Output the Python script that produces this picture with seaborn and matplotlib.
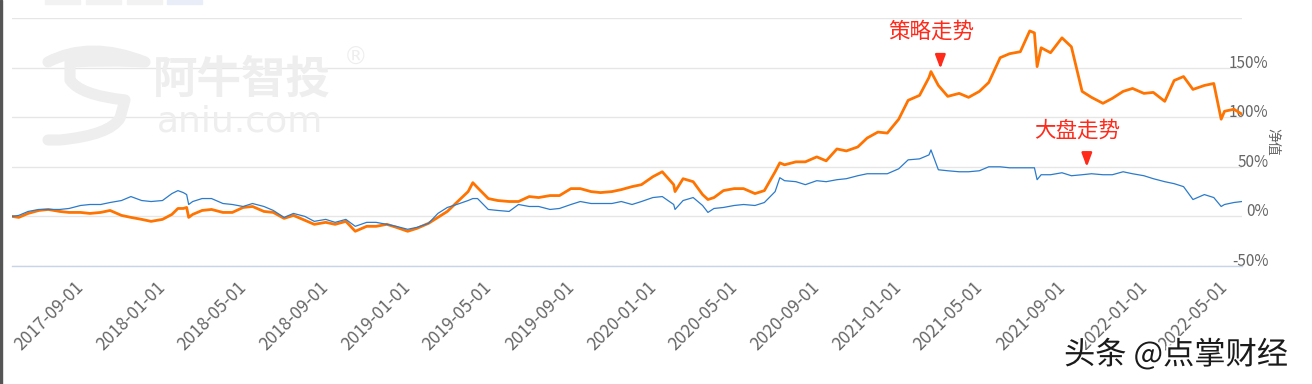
import pandas as pd
import matplotlib
matplotlib.use("Agg")
import matplotlib.pyplot as plt
import matplotlib.dates as mdates
import matplotlib.patheffects as pe
from matplotlib.patches import Rectangle, PathPatch
from matplotlib.path import Path
from matplotlib.transforms import ScaledTranslation
import seaborn as sns

# 半月采样点 (1日/15日) + 首尾
sample_dates = (["2017-05-22"]
                + list(pd.date_range("2017-06-01", "2022-05-15", freq="SMS").strftime("%Y-%m-%d"))
                + ["2022-05-27"])

# 策略走势 (%)
strategy = ([0]
            + [-1, 3, 6, 7, 5, 4, 4, 3, 4, 6, 1, -1, -3, -5]
            + [-3, 2, 8, 2, 6, 7, 4, 4, 9, 10, 5, 4, -2, 1, -4, -8, -6, -8, -5, -15, -10, -10, -8, -11]
            + [-15, -12, -7, -1, 5, 14, 25, 29, 18, 16, 15, 15, 20, 19, 21, 21, 28, 28, 25, 24, 25, 27, 30, 32]
            + [40, 45, 32, 38, 35, 22, 19, 26, 28, 28, 23, 26, 45, 52, 55, 55, 60, 56, 68, 66, 70, 79, 85, 84]
            + [98, 117, 122, 140, 132, 121, 124, 120, 126, 135, 160, 164, 166, 187, 170, 165, 180, 171, 126, 120, 114, 119, 126, 129]
            + [124, 125, 116, 137, 141, 128, 132, 134, 106, 108]
            + [103])

# 大盘走势 (%)
market = ([0]
          + [1, 5, 7, 7, 7, 8, 11, 12, 12, 14, 16, 20, 16, 15]
          + [16, 23, 24, 15, 18, 18, 13, 12, 10, 13, 10, 6, -1, 3, 0, -5, -3, -6, -3, -10, -6, -6, -8, -10]
          + [-13, -11, -7, 3, 9, 12, 16, 18, 7, 6, 5, 12, 10, 10, 7, 8, 12, 15, 13, 13, 13, 15, 12, 15]
          + [19, 20, 12, 16, 19, 11, 8, 9, 11, 12, 11, 14, 25, 36, 35, 32, 36, 35, 37, 38, 41, 43, 43, 43]
          + [48, 57, 58, 62, 47, 46, 45, 45, 46, 50, 50, 49, 49, 49, 42, 42, 44, 41, 42, 43, 42, 42, 45, 43]
          + [41, 38, 35, 33, 30, 17, 22, 19, 12, 14]
          + [15])

# 几个明显的尖峰/急跌
extra_dates = ["2018-01-24", "2018-02-06", "2018-02-09", "2019-04-08", "2020-02-03",
               "2020-03-23", "2020-07-08", "2021-02-18", "2021-07-22", "2021-07-26", "2022-04-26"]
extra_strategy = [8, 9, -1, 34, 25, 17, 54, 146, 185, 151, 98]
extra_market = [26, 22, 12, 18, 7, 4, 39, 67, 49, 37, 10]

y_ticks = [-50, 0, 50, 100, 150, 200]

df = pd.DataFrame({"date": sample_dates + extra_dates,
                   "策略": strategy + extra_strategy,
                   "大盘": market + extra_market})
df["date"] = pd.to_datetime(df["date"])
df = df.sort_values("date")
long = df.melt(id_vars="date", var_name="series", value_name="value")

sns.set_style("white")
plt.rcParams["font.family"] = ["Noto Sans CJK SC", "DejaVu Sans"]
plt.rcParams["axes.unicode_minus"] = False

W, H = 1312, 384
fig = plt.figure(figsize=(W / 100, H / 100), dpi=100)
ax = fig.add_axes([12 / W, 1 - 266 / H, 1230 / W, 248 / H])

# 水印 (阿牛智投)
wm = "#eeeeee"
fig.text(242 / W, 1 - 80 / H, "阿牛智投", fontsize=32, color=wm, ha="center", va="center", fontweight="bold")
fig.text(356 / W, 1 - 58 / H, "®", fontsize=17, color=wm, ha="center", va="center", family="DejaVu Sans")
fig.text(240 / W, 1 - 122 / H, "aniu.com", fontsize=26, color=wm, ha="center", va="center", family="DejaVu Sans")
verts = [(48, 62), (90, 40), (145, 62), (145, 62),
         (110, 60), (70, 62), (70, 80),
         (80, 95), (125, 100), (120, 118),
         (110, 135), (60, 140), (48, 140)]
codes = [Path.MOVETO, Path.CURVE3, Path.CURVE3, Path.LINETO,
         Path.CURVE3, Path.CURVE3, Path.LINETO,
         Path.CURVE3, Path.CURVE3, Path.LINETO,
         Path.CURVE3, Path.CURVE3, Path.LINETO]
verts = [(x / W, 1 - y / H) for x, y in verts]
fig.patches.append(PathPatch(Path(verts, codes), transform=fig.transFigure, fill=False,
                             edgecolor=wm, lw=8, capstyle="round", joinstyle="round"))

sns.lineplot(data=long, x="date", y="value", hue="series", size="series",
             hue_order=["策略", "大盘"], palette={"策略": "#ff7300", "大盘": "#2b7bcb"},
             sizes={"策略": 2.0, "大盘": 0.9}, legend=False, ax=ax, zorder=3)

ax.set_xlim(pd.Timestamp("2017-05-22"), pd.Timestamp("2022-05-27"))
ax.set_ylim(-50, 200)
ax.set_yticks(y_ticks)
ax.set_yticklabels([f"{v}%" if v < 200 else "" for v in y_ticks])
ax.yaxis.tick_right()
ax.yaxis.set_label_position("right")
ax.tick_params(axis="y", length=0, pad=19, labelsize=11, labelcolor="#666666")
for lbl in ax.get_yticklabels():
    lbl.set_horizontalalignment("right")
    lbl.set_verticalalignment("baseline")
ax.grid(axis="y", color="#e6e6e6", lw=1)
ax.set_ylabel("净值", rotation=270, color="#666666", fontsize=10, labelpad=8)
ax.set_xlabel("")

ax.xaxis.set_major_locator(mdates.MonthLocator(bymonth=[1, 5, 9]))
ax.xaxis.set_major_formatter(mdates.DateFormatter("%Y-%m-%d"))
ax.tick_params(axis="x", length=7, width=1, color="#c8d4e8", labelsize=12.5, labelcolor="#666666", pad=2)
shift = ScaledTranslation(-6 / 100, 0, fig.dpi_scale_trans)
for lbl in ax.get_xticklabels():
    lbl.set_rotation(45)
    lbl.set_horizontalalignment("right")
    lbl.set_verticalalignment("top")
    lbl.set_rotation_mode("anchor")
    lbl.set_transform(lbl.get_transform() + shift)

for s in ["top", "left", "right"]:
    ax.spines[s].set_visible(False)
ax.spines["bottom"].set_color("#c8d4e8")
ax.spines["bottom"].set_linewidth(1)
ax.set_facecolor("none")

# 标注
red = "#ff2a1a"
ax.text(pd.Timestamp("2021-02-18"), 186, "策略走势", color=red, fontsize=15.5, ha="center", va="center")
ax.annotate("", xy=(pd.Timestamp("2021-03-04"), 146), xytext=(pd.Timestamp("2021-03-04"), 165),
            arrowprops=dict(arrowstyle="-|>,head_width=0.3,head_length=0.8", color=red, lw=1.8))
ax.text(pd.Timestamp("2021-09-24"), 86, "大盘走势", color=red, fontsize=15.5, ha="center", va="center")
ax.annotate("", xy=(pd.Timestamp("2021-10-08"), 47), xytext=(pd.Timestamp("2021-10-08"), 67),
            arrowprops=dict(arrowstyle="-|>,head_width=0.3,head_length=0.8", color=red, lw=1.8))

# 页面残留: 左边框和顶部按钮
fig.patches.append(Rectangle((0, 0), 2 / W, 1, transform=fig.transFigure, color="#555555"))
for x0, c in [(45, "#f2f2f2"), (86, "#f2f2f2"), (127, "#f2f2f2"), (167, "#e8edf7")]:
    fig.patches.append(Rectangle((x0 / W, 1 - 4 / H), 35 / W, 4 / H, transform=fig.transFigure, color=c))

# 头条水印
fig.text(1176 / W, 1 - 355 / H, "头条 @点掌财经", fontsize=22.5, color="#1a1a1a", ha="center", va="center",
         path_effects=[pe.withStroke(linewidth=3, foreground="white")])

fig.savefig("out.png", dpi=100)
